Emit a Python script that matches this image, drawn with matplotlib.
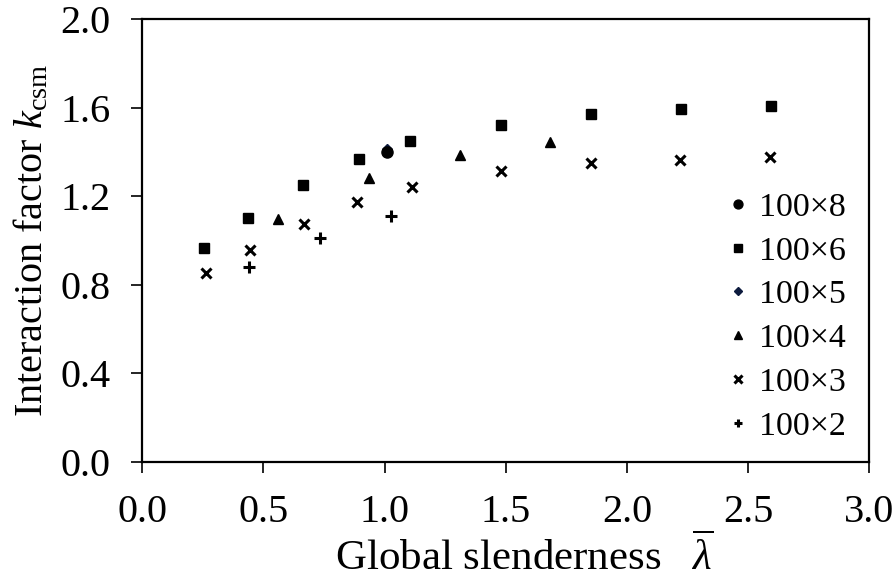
import matplotlib
matplotlib.use("Agg")
from matplotlib import pyplot as plt

## Datos
x8 = [1.011]
y8 = [1.400]

x6 = [0.256, 0.436, 0.664, 0.894, 1.106, 1.480, 1.851, 2.222, 2.593]
y6 = [0.964, 1.100, 1.252, 1.368, 1.449, 1.521, 1.570, 1.592, 1.607]

x5 = [1.011]
y5 = [1.415]

x4 = [0.561, 0.934, 1.310, 1.681]
y4 = [1.095, 1.283, 1.387, 1.443]

x3 = [0.262, 0.445, 0.666, 0.887, 1.112, 1.480, 1.851, 2.220, 2.591]
y3 = [0.854, 0.957, 1.075, 1.175, 1.243, 1.315, 1.348, 1.363, 1.378]

x2 = [0.440, 0.733, 1.026]
y2 = [0.878, 1.012, 1.110]

xticks = [0.0, 0.5, 1.0, 1.5, 2.0, 2.5, 3.0]
yticks = [0.0, 0.4, 0.8, 1.2, 1.6, 2.0]

## Estilo
plt.rcParams['font.family'] = ['Liberation Serif', 'DejaVu Serif']
plt.rcParams['mathtext.fontset'] = 'custom'
plt.rcParams['mathtext.rm'] = 'Liberation Serif'
plt.rcParams['mathtext.it'] = 'Liberation Serif:italic'

fig = plt.figure(figsize=(8.96, 5.78), dpi=100)
ax = fig.add_axes([0.1588, 0.2012, 0.8114, 0.7659])

ax.plot(x5, y5, 'D', color='#0d1b3e', ms=5, ls='none', label='100×5', zorder=2)
ax.plot(x8, y8, 'o', color='k', ms=8, ls='none', label='100×8', zorder=3)
ax.plot(x6, y6, 's', color='k', ms=7, ls='none', label='100×6')
ax.plot(x4, y4, '^', color='k', ms=7, ls='none', label='100×4')
ax.plot(x3, y3, 'x', color='k', ms=7, mew=2.2, ls='none', label='100×3')
ax.plot(x2, y2, '+', color='k', ms=8, mew=2.2, ls='none', label='100×2')

ax.set_xlim(0, 3)
ax.set_ylim(0, 2)
ax.set_xticks(xticks)
ax.set_yticks(yticks)
ax.set_xticklabels(['%.1f' % v for v in xticks])
ax.set_yticklabels(['%.1f' % v for v in yticks])
ax.tick_params(direction='out', length=8, width=1.2, labelsize=29)
ax.tick_params(axis='x', pad=15)
ax.tick_params(axis='y', pad=15)
for s in ax.spines.values():
    s.set_linewidth(1.6)

ax.set_xlabel(r'Global slenderness  $\ \overline{\lambda}$', fontsize=31)
ax.xaxis.set_label_coords(0.525, -0.163)
ax.set_ylabel(r'Interaction factor $k_{\mathrm{csm}}$', fontsize=29, labelpad=6)

h, l = ax.get_legend_handles_labels()
order = ['100×8', '100×6', '100×5', '100×4', '100×3', '100×2']
hh = [h[l.index(o)] for o in order]
ax.legend(hh, order, loc='upper left', bbox_to_anchor=(0.787, 0.64),
          frameon=False, fontsize=24.5, markerscale=0.8, handlelength=0.6,
          handletextpad=0.3, labelspacing=0.38, borderaxespad=0)

plt.savefig('out.png', dpi=100)
